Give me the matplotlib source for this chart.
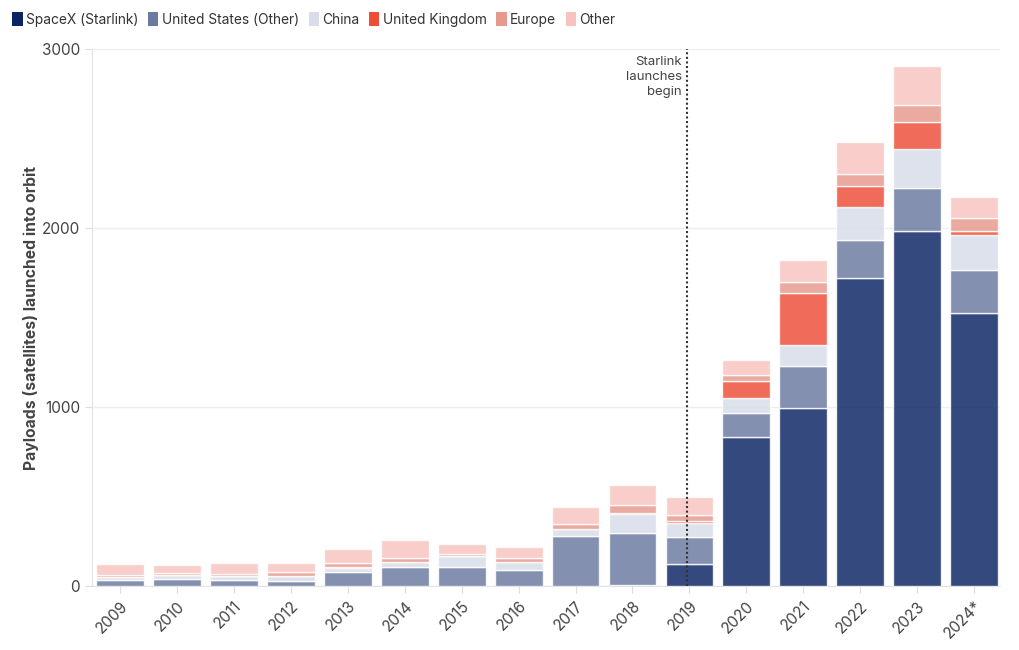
import numpy as np
import matplotlib.pyplot as plt
from matplotlib.patches import Patch

plt.rcParams["font.family"] = ["Inter", "DejaVu Sans"]

years = ["2009", "2010", "2011", "2012", "2013", "2014", "2015", "2016",
         "2017", "2018", "2019", "2020", "2021", "2022", "2023", "2024*"]

spacex = [0, 0, 0, 0, 0, 0, 0, 0, 0, 5, 121, 834, 993, 1723, 1985, 1527]
us_other = [34, 39, 35, 30, 80, 104, 108, 89, 279, 293, 155, 134, 238, 210, 237, 238]
china = [15, 22, 23, 28, 20, 28, 60, 45, 38, 104, 78, 81, 115, 186, 218, 196]
uk = [0, 0, 0, 0, 5, 4, 0, 0, 0, 7, 11, 98, 289, 116, 151, 22]
europe = [14, 9, 9, 20, 25, 22, 9, 21, 32, 41, 32, 32, 65, 67, 97, 71]
other = [60, 47, 60, 50, 75, 99, 58, 61, 92, 114, 100, 84, 121, 181, 217, 121]

series = [
    ("SpaceX (Starlink)", spacex, "#0b2463"),
    ("United States (Other)", us_other, "#6b7aa0"),
    ("China", china, "#d8dde9"),
    ("United Kingdom", uk, "#ee4d37"),
    ("Europe", europe, "#e6998c"),
    ("Other", other, "#f8c3bf"),
]

fig = plt.figure(figsize=(10.2, 6.5), dpi=100)
ax = fig.add_axes([0.090, 0.0985, 0.890, 0.826])

x = np.arange(len(years))
bottom = np.zeros(len(years))
for name, vals, col in series:
    vals = np.array(vals, dtype=float)
    ax.bar(x, vals, 0.84, bottom=bottom, color=col, alpha=0.83,
           edgecolor="white", linewidth=1.0, zorder=3)
    bottom += vals

ax.set_xlim(-0.5, 15.45)
ax.set_ylim(0, 3000)
ax.set_yticks([0, 1000, 2000, 3000])
ax.set_xticks(x)
ax.set_xticklabels(years, rotation=45, ha="right", rotation_mode="anchor")
ax.tick_params(axis="both", colors="#dddddd", labelcolor="#444444", labelsize=11, length=5)
ax.tick_params(axis="x", pad=4)
ax.grid(axis="y", color="#eeeeee", linewidth=1, zorder=0)
for s in ["top", "right"]:
    ax.spines[s].set_visible(False)
ax.spines["left"].set_color("#e3e3e3")
ax.spines["bottom"].set_color("#e3e3e3")

ax.set_ylabel("Payloads (satellites) launched into orbit", fontsize=11.3,
              fontweight="bold", color="#444444", labelpad=2)

# Starlink marker
ax.axvline(9.95, color="#333333", linestyle=(0, (1, 1.2)), linewidth=1.5, zorder=4)
ax.text(9.87, 2960, "Starlink\nlaunches\nbegin", ha="right", va="top",
        fontsize=9.5, color="#444444", linespacing=1.3)

handles = [Patch(facecolor=c, edgecolor="none", label=n) for n, _, c in series]
fig.legend(handles=handles, loc="upper left", bbox_to_anchor=(0.0, 1.0),
           ncol=6, frameon=False, fontsize=9.9, handlelength=0.75,
           handleheight=1.2, handletextpad=0.25, columnspacing=0.7,
           labelcolor="#333333")

fig.savefig("out.png", dpi=100)
